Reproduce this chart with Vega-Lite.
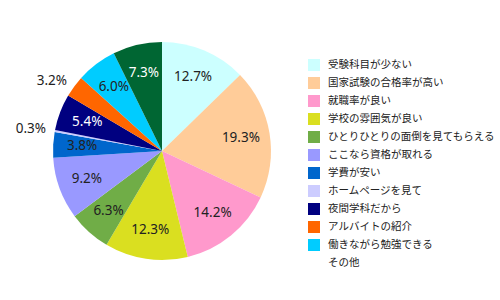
{
  "$schema": "https://vega.github.io/schema/vega-lite/v6.json",
  "width": 324,
  "height": 302,
  "autosize": {"type": "none"},
  "padding": {"left": 0, "top": 0, "right": 176, "bottom": 0},
  "background": "white",
  "config": {"view": {"stroke": null}},
  "data": {
    "values": [
      {"i": 1, "c": "受験科目が少ない", "v": 12.7, "label": "12.7%"},
      {"i": 2, "c": "国家試験の合格率が高い", "v": 19.3, "label": "19.3%"},
      {"i": 3, "c": "就職率が良い", "v": 14.2, "label": "14.2%"},
      {"i": 4, "c": "学校の雰囲気が良い", "v": 12.3, "label": "12.3%"},
      {"i": 5, "c": "ひとりひとりの面倒を見てもらえる", "v": 6.3, "label": "6.3%"},
      {"i": 6, "c": "ここなら資格が取れる", "v": 9.2, "label": "9.2%"},
      {"i": 7, "c": "学費が安い", "v": 3.8, "label": "3.8%"},
      {"i": 8, "c": "ホームページを見て", "v": 0.3, "label": "0.3%"},
      {"i": 9, "c": "夜間学科だから", "v": 5.4, "label": "5.4%"},
      {"i": 10, "c": "アルバイトの紹介", "v": 3.2, "label": "3.2%"},
      {"i": 11, "c": "働きながら勉強できる", "v": 6.0, "label": "6.0%"},
      {"i": 12, "c": "その他", "v": 7.3, "label": "7.3%"}
    ]
  },
  "encoding": {
    "theta": {"field": "v", "type": "quantitative", "stack": true},
    "order": {"field": "i", "type": "quantitative"}
  },
  "layer": [
    {
      "mark": {"type": "arc", "outerRadius": 109},
      "encoding": {
        "color": {
          "field": "c",
          "type": "nominal",
          "sort": null,
          "scale": {
            "domain": ["受験科目が少ない", "国家試験の合格率が高い", "就職率が良い", "学校の雰囲気が良い", "ひとりひとりの面倒を見てもらえる", "ここなら資格が取れる", "学費が安い", "ホームページを見て", "夜間学科だから", "アルバイトの紹介", "働きながら勉強できる", "その他"],
            "range": ["#CCFFFF", "#FFCC99", "#FF99CC", "#DADF20", "#70AD47", "#9999FF", "#0066CC", "#CCCCFF", "#000080", "#FF6600", "#00CCFF", "#006633"]
          },
          "legend": {
            "orient": "none",
            "legendX": 308,
            "legendY": 59,
            "title": null,
            "padding": 0,
            "symbolType": "square",
            "symbolSize": 144,
            "symbolStrokeWidth": 0,
            "symbolOpacity": 1,
            "labelFont": "Noto Sans CJK JP",
            "labelFontSize": 10.5,
            "labelColor": "#222222",
            "labelOffset": 8,
            "labelLimit": 300,
            "rowPadding": 6,
            "encode": {
              "symbols": {
                "update": {
                  "opacity": {"signal": "datum.value === 'その他' ? 0 : 1"}
                }
              }
            }
          }
        }
      }
    },
    {
      "mark": {"type": "text", "radius": 80, "font": "Noto Sans", "fontSize": 13.5, "align": "center", "baseline": "middle"},
      "encoding": {
        "detail": {"field": "c", "type": "nominal"},
        "text": {
          "condition": {"test": "datum.v < 1 || datum.c === 'アルバイトの紹介'", "value": ""},
          "field": "label"
        },
        "color": {
          "condition": {"test": "datum.c === '夜間学科だから' || datum.c === 'その他'", "value": "white"},
          "value": "#222222"
        }
      }
    },
    {
      "mark": {"type": "text", "radius": 118, "font": "Noto Sans", "fontSize": 13.5, "align": "right", "baseline": "middle"},
      "encoding": {
        "detail": {"field": "c", "type": "nominal"},
        "text": {
          "condition": {"test": "datum.v < 1 || datum.c === 'アルバイトの紹介'", "field": "label"},
          "value": ""
        },
        "color": {"value": "#222222"}
      }
    }
  ]
}
